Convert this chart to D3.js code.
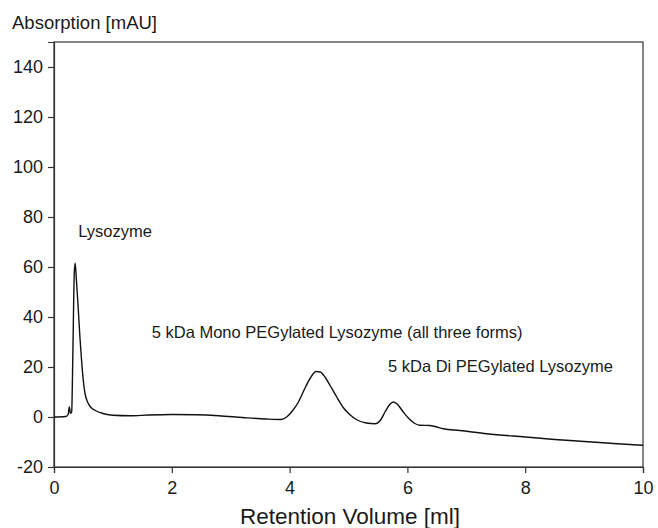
<!DOCTYPE html>
<html>
<head>
<meta charset="utf-8">
<script src="https://cdn.jsdelivr.net/npm/d3@7"></script>
<style>
  body { margin: 0; background: #fff; }
  text { font-family: "Liberation Sans", Arial, sans-serif; fill: #1a1a1a; }
</style>
</head>
<body>
<div id="container"></div>
<script>
const w = 658,
    h = 528;

// retention volume [ml] and absorption [mAU]
var volume = [0, 0.2, 0.24, 0.26, 0.28, 0.3, 0.32, 0.345, 0.36, 0.38, 0.41, 0.44, 0.47, 0.5, 0.53, 0.57, 0.62, 0.7, 0.85, 1.0,
    1.3, 1.6, 2.0, 2.4, 2.8, 3.2, 3.6, 3.85, 3.95, 4.05, 4.15, 4.25, 4.35, 4.45, 4.52, 4.6, 4.69, 4.8, 4.91, 5.02, 5.14,
    5.3, 5.45, 5.55, 5.62, 5.7, 5.76, 5.82, 5.93, 6.02, 6.12, 6.21, 6.38, 6.47, 6.61, 6.89, 7.35, 8.0, 8.5, 9.0, 9.5, 10];
var absorption = [0, 0.2, 1, 4, 1.5, 2, 25, 58, 61.5, 55, 44, 32, 22, 14, 9, 6, 4, 2.6, 1.3, 0.7,
    0.5, 0.8, 1, 0.9, 0.5, -0.2, -0.8, -1, 0, 2.5, 6, 11, 15.5, 18.2, 18, 16, 12.5, 8, 3.8, 1, -1.1,
    -2.4, -2.7, -1, 2, 5, 6, 5.3, 2, -0.5, -2.5, -3.3, -3.4, -3.8, -4.7, -5.4, -6.7, -8, -9, -9.8, -10.6, -11.3];

var xTicks = [0, 2, 4, 6, 8, 10];
var yTicks = [-20, 0, 20, 40, 60, 80, 100, 120, 140];

// annotations: label, x value, y value (baseline)
var labels = [
    {text: "Lysozyme", x: 0.41, y: 72},
    {text: "5 kDa Mono PEGylated Lysozyme (all three forms)", x: 1.66, y: 31.5},
    {text: "5 kDa Di PEGylated Lysozyme", x: 5.67, y: 18}
];

var svg = d3.select("div#container")
    .append("svg")
    .attr("width", w)
    .attr("height", h);

var x = d3.scaleLinear().domain([0, 10]).range([54, 643]);
var y = d3.scaleLinear().domain([-20, 150]).range([467, 42]);

// frame
svg.append("rect")
    .attr("x", x(0))
    .attr("y", y(150))
    .attr("width", x(10) - x(0))
    .attr("height", y(-20) - y(150))
    .style("fill", "none")
    .style("stroke", "#333")
    .style("stroke-width", 1.2);

var xAxis = svg.append("g")
    .attr("transform", "translate(0," + y(-20) + ")")
    .call(d3.axisBottom(x).tickValues(xTicks).tickSize(6).tickPadding(8).tickFormat(d => String(d)));
var yAxis = svg.append("g")
    .attr("transform", "translate(" + x(0) + ",0)")
    .call(d3.axisLeft(y).tickValues(yTicks).tickSize(6).tickPadding(5).tickFormat(d => String(d)));

[xAxis, yAxis].forEach(function (a) {
    a.select(".domain").style("stroke", "#333").style("stroke-width", 1.2);
    a.selectAll(".tick line").style("stroke", "#333").style("stroke-width", 1.2);
    a.selectAll(".tick text")
        .style("font-family", "Liberation Sans, Arial, sans-serif")
        .style("font-size", "18px")
        .style("fill", "#1a1a1a");
});

// trace
var points = volume.map((v, i) => [v, absorption[i]]);
svg.append("path")
    .datum(points)
    .attr("fill", "none")
    .attr("stroke", "#111")
    .attr("stroke-width", 1.4)
    .attr("d", d3.line()
        .x(d => x(d[0]))
        .y(d => y(d[1]))
        .curve(d3.curveMonotoneX));

svg.selectAll(".lbl")
    .data(labels)
    .enter().append("text")
    .attr("class", "lbl")
    .attr("x", d => x(d.x))
    .attr("y", d => y(d.y))
    .style("font-size", "16.5px")
    .text(d => d.text);

svg.append("text")
    .attr("x", 12)
    .attr("y", 29)
    .style("font-size", "18.5px")
    .text("Absorption [mAU]");

svg.append("text")
    .attr("x", 350)
    .attr("y", 524)
    .attr("text-anchor", "middle")
    .style("font-size", "22.5px")
    .text("Retention Volume [ml]");
</script>
</body>
</html>
